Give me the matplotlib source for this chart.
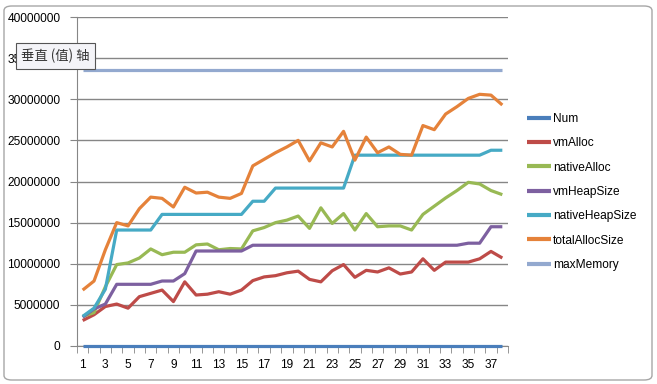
import numpy as np
import matplotlib
matplotlib.use("Agg")
from matplotlib import pyplot as plt
from matplotlib.patches import FancyBboxPatch

# data (values in bytes)
num = list(range(1, 39))
vm_alloc = [3.1, 3.8, 4.8, 5.1, 4.6, 6.0, 6.4, 6.8, 5.4, 7.8,
            6.2, 6.3, 6.6, 6.3, 6.8, 7.95, 8.4, 8.55, 8.9, 9.1,
            8.1, 7.8, 9.15, 9.9, 8.35, 9.2, 9.0, 9.5, 8.75, 9.0,
            10.6, 9.2, 10.2, 10.2, 10.2, 10.6, 11.5, 10.7]
native_alloc = [3.6, 4.05, 7.2, 9.9, 10.1, 10.7, 11.8, 11.1, 11.4, 11.4,
                12.3, 12.4, 11.7, 11.85, 11.8, 14.0, 14.4, 15.0, 15.3, 15.8,
                14.3, 16.8, 14.9, 16.1, 14.1, 16.1, 14.5, 14.6, 14.6, 14.1,
                16.0, 17.0, 18.0, 18.9, 19.9, 19.7, 18.9, 18.4]
vm_heap = [3.5, 4.5, 5.1, 7.5, 7.5, 7.5, 7.5, 7.9, 7.9, 8.8,
           11.55, 11.55, 11.55, 11.55, 11.55, 12.25, 12.25, 12.25, 12.25, 12.25,
           12.25, 12.25, 12.25, 12.25, 12.25, 12.25, 12.25, 12.25, 12.25, 12.25,
           12.25, 12.25, 12.25, 12.25, 12.5, 12.5, 14.5, 14.5]
native_heap = [3.6, 4.6, 6.9, 14.1, 14.1, 14.1, 14.1, 16.0, 16.0, 16.0,
               16.0, 16.0, 16.0, 16.0, 16.0, 17.6, 17.6, 19.2, 19.2, 19.2,
               19.2, 19.2, 19.2, 19.2, 23.2, 23.2, 23.2, 23.2, 23.2, 23.2,
               23.2, 23.2, 23.2, 23.2, 23.2, 23.2, 23.8, 23.8]
total_alloc = [6.8, 7.9, 11.7, 15.0, 14.6, 16.7, 18.1, 17.95, 16.9, 19.3,
               18.6, 18.7, 18.1, 17.95, 18.55, 21.9, 22.7, 23.5, 24.2, 25.0,
               22.5, 24.7, 24.2, 26.1, 22.6, 25.4, 23.5, 24.2, 23.3, 23.2,
               26.8, 26.3, 28.2, 29.1, 30.1, 30.6, 30.5, 29.3]
max_memory = [33554432] * 38

series = [
    ("Num", num, "#4A7EBB"),
    ("vmAlloc", [v * 1e6 for v in vm_alloc], "#BE4B48"),
    ("nativeAlloc", [v * 1e6 for v in native_alloc], "#98B954"),
    ("vmHeapSize", [v * 1e6 for v in vm_heap], "#7D60A0"),
    ("nativeHeapSize", [v * 1e6 for v in native_heap], "#46AAC5"),
    ("totalAllocSize", [v * 1e6 for v in total_alloc], "#E5823A"),
    ("maxMemory", max_memory, "#93A9CF"),
]

plt.rcParams['font.family'] = ['Liberation Sans', 'DejaVu Sans']

fig = plt.figure(figsize=(6.57, 3.84), dpi=100)
fig.patch.set_facecolor('white')

# chart area frame, kept behind the axes
frame = FancyBboxPatch((4 / 657, 4 / 384), 648 / 657, 374 / 384,
                       boxstyle="round,pad=0,rounding_size=0.012",
                       transform=fig.transFigure, fc='white', ec='#A6A6A6', lw=1.0,
                       zorder=-5)
fig.patches.append(frame)

ax = fig.add_axes([77 / 657, 38 / 384, 431 / 657, 329 / 384])
ax.patch.set_alpha(0)
x = np.arange(1, 39)
for name, vals, col in series:
    ax.plot(x, vals, color=col, lw=2.3, label=name, solid_capstyle='butt',
            zorder=3, clip_on=False)

ax.set_xlim(0.5, 38.5)
ax.set_ylim(0, 40000000)
ax.set_yticks(np.arange(0, 40000001, 5000000))
ax.set_yticklabels([str(v) for v in range(0, 40000001, 5000000)], fontsize=8.6)
ax.yaxis.grid(True, color='#868686', lw=1.0)
ax.set_axisbelow(True)

ax.set_xticks(np.arange(1, 39, 2))
ax.set_xticklabels([str(v) for v in range(1, 39, 2)], fontsize=8.6)
ax.set_xticks(np.arange(0.5, 39, 1), minor=True)
ax.tick_params(axis='x', which='major', length=0, pad=9)
ax.tick_params(axis='x', which='minor', length=5, color='#868686')
ax.tick_params(axis='y', length=5, color='#868686', pad=7)

for s in ['top', 'right']:
    ax.spines[s].set_visible(False)
ax.spines['left'].set_color('#868686')
ax.spines['bottom'].set_color('#868686')

leg = ax.legend(loc='upper left', bbox_to_anchor=(527 / 657, 1 - 113 / 384),
                bbox_transform=fig.transFigure, frameon=False, fontsize=8.6,
                borderpad=0, borderaxespad=0,
                handlelength=2.0, handletextpad=0.2, labelspacing=1.03)
for line in leg.get_lines():
    line.set_linewidth(3)

# hover tooltip from the screenshot, drawn over the tick label
fig.text(21 / 657, 1 - 56 / 384, "垂直 (值) 轴", fontsize=9.6, va='center', ha='left',
         family=['Noto Sans CJK SC', 'DejaVu Sans'], color='#333333', zorder=10,
         bbox=dict(boxstyle='square,pad=0.4', fc='#F4F4F8', ec='#555555', lw=0.8))

fig.savefig('out.png', dpi=100)
